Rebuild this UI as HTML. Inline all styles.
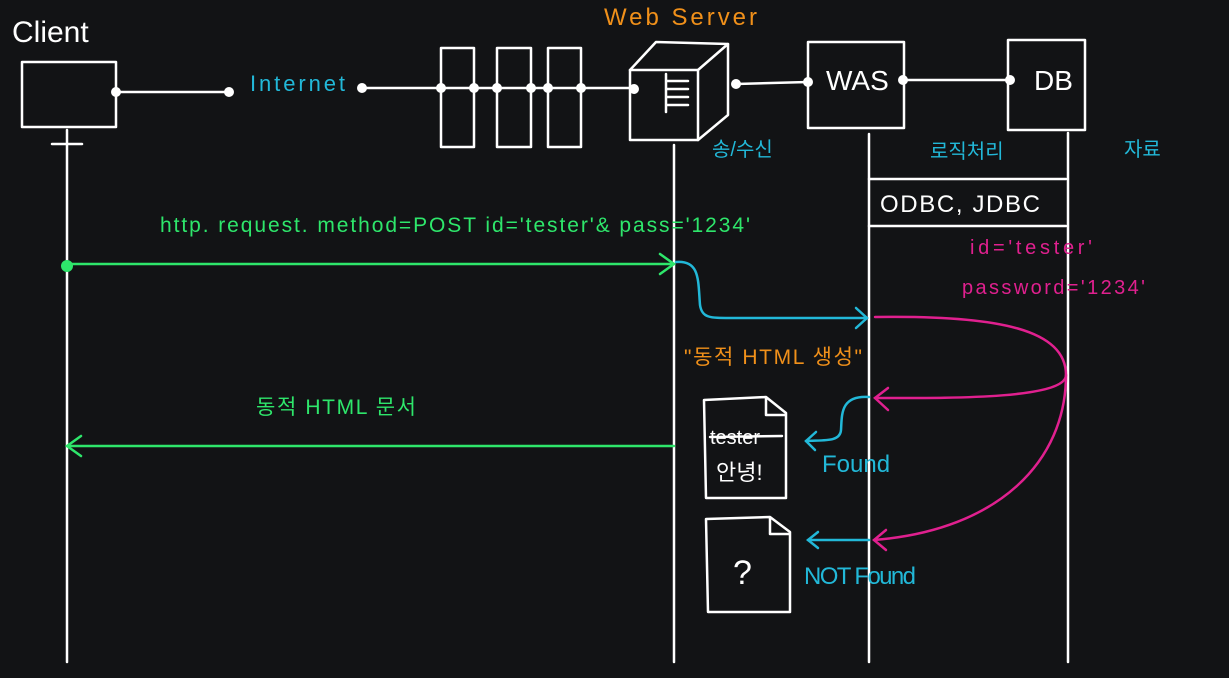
<!DOCTYPE html>
<html><head><meta charset="utf-8"><style>
html,body{margin:0;padding:0;background:#121315;}
svg{display:block}
text{font-family:"Liberation Sans","Noto Sans CJK KR",sans-serif;}
</style></head><body>
<svg width="1229" height="678" viewBox="0 0 1229 678" xmlns="http://www.w3.org/2000/svg">
<rect width="1229" height="678" fill="#121315"/>
<g stroke="#fff" stroke-width="2.5" fill="none" stroke-linecap="round" stroke-linejoin="round">
  <rect x="22" y="62" width="94" height="65"/>
  <line x1="116" y1="92" x2="229" y2="92"/>
  <line x1="362" y1="88" x2="634" y2="88"/>
  <rect x="441" y="48" width="33" height="99"/>
  <rect x="497" y="48" width="34" height="99"/>
  <rect x="548" y="48" width="33" height="99"/>
  <path d="M630 70 L698 70 L698 140 L630 140 Z"/>
  <path d="M630 70 L656 42 L728 44 L698 70"/>
  <path d="M728 44 L728 115 L698 140"/>
  <path d="M666 74 L666 112 M666 81 L688 81 M666 89 L688 89 M666 97 L688 97 M666 105 L688 105"/>
  <line x1="736" y1="84" x2="808" y2="82"/>
  <rect x="808" y="42" width="96" height="86"/>
  <line x1="904" y1="80" x2="1010" y2="80"/>
  <rect x="1008" y="40" width="77" height="90"/>
  <line x1="67" y1="130" x2="67" y2="662"/>
  <line x1="52" y1="144" x2="82" y2="144"/>
  <line x1="674" y1="145" x2="674" y2="662"/>
  <line x1="869" y1="134" x2="869" y2="662"/>
  <line x1="1068" y1="133" x2="1068" y2="662"/>
  <line x1="869" y1="179" x2="1066" y2="179"/>
  <line x1="869" y1="226" x2="1066" y2="226"/>
  <path d="M704 400 L766 397 L786 413 L786 498 L706 498 Z M766 397 L766 415 L786 415"/>
  <path d="M706 519 L770 517 L790 532 L790 612 L708 612 Z M770 517 L770 534 L790 534"/>
  <line x1="710" y1="437" x2="782" y2="436"/>
</g>
<g fill="#fff" stroke="#fff" stroke-width="2">
  <circle cx="116" cy="92" r="4"/><circle cx="229" cy="92" r="4"/><circle cx="362" cy="88" r="4"/>
  <circle cx="441" cy="88" r="4"/><circle cx="474" cy="88" r="4"/><circle cx="497" cy="88" r="4"/>
  <circle cx="531" cy="88" r="4"/><circle cx="548" cy="88" r="4"/><circle cx="581" cy="88" r="4"/>
  <circle cx="634" cy="89" r="4"/><circle cx="736" cy="84" r="4"/><circle cx="808" cy="82" r="4"/>
  <circle cx="903" cy="80" r="4"/><circle cx="1010" cy="80" r="4"/>
</g>
<g stroke="#2ee66b" stroke-width="2.5" fill="none" stroke-linecap="round">
  <line x1="67" y1="264" x2="674" y2="264"/>
  <path d="M660 254 L674 264 L660 274"/>
  <line x1="67" y1="446" x2="674" y2="446"/>
  <path d="M81 436 L67 446 L81 456"/>
</g>
<circle cx="67" cy="266" r="6" fill="#2ee66b"/>
<g stroke="#22b8d8" stroke-width="2.5" fill="none" stroke-linecap="round">
  <path d="M676 262 C700 260 698 280 700 305 C702 318 710 318 730 318 L867 318"/>
  <path d="M856 308 L867 318 L856 328"/>
  <path d="M869 397 C840 395 842 415 841 430 C840 442 825 440 806 441"/>
  <path d="M816 432 L806 441 L815 450"/>
  <line x1="869" y1="540" x2="808" y2="540"/>
  <path d="M818 532 L808 540 L818 548"/>
</g>
<g stroke="#e0208f" stroke-width="2.5" fill="none" stroke-linecap="round">
  <path d="M875 317 C1000 315 1066 330 1066 375 C1066 400 940 398 875 398"/>
  <path d="M888 388 L875 398 L888 410"/>
  <path d="M1066 375 C1066 460 1000 530 874 540"/>
  <path d="M886 530 L874 540 L886 550"/>
</g>
<text x="12" y="42" fill="#fff" font-size="30">Client</text>
<text x="604" y="25" fill="#f0901a" font-size="24" textLength="153">Web Server</text>
<text x="250" y="91" fill="#22b8d8" font-size="22" textLength="95">Internet</text>
<text x="826" y="90" fill="#fff" font-size="28">WAS</text>
<text x="1034" y="90" fill="#fff" font-size="28">DB</text>
<text x="712" y="156" fill="#22b8d8" font-size="20">송/수신</text>
<text x="930" y="158" fill="#22b8d8" font-size="20">로직처리</text>
<text x="1124" y="156" fill="#22b8d8" font-size="20">자료</text>
<text x="880" y="212" fill="#fff" font-size="24" textLength="160">ODBC, JDBC</text>
<text x="160" y="232" fill="#2ee66b" font-size="21" textLength="590">http. request. method=POST   id='tester'&amp; pass='1234'</text>
<text x="970" y="254" fill="#e0208f" font-size="20" textLength="122">id='tester'</text>
<text x="962" y="294" fill="#e0208f" font-size="20" textLength="183">password='1234'</text>
<text x="684" y="364" fill="#f0901a" font-size="21" textLength="178">"동적 HTML 생성"</text>
<text x="256" y="414" fill="#2ee66b" font-size="21" textLength="160">동적 HTML 문서</text>
<text x="710" y="444" fill="#fff" font-size="20">tester</text>
<text x="716" y="480" fill="#fff" font-size="22">안녕!</text>
<text x="822" y="472" fill="#22b8d8" font-size="24">Found</text>
<text x="733" y="584" fill="#fff" font-size="34">?</text>
<text x="804" y="584" fill="#22b8d8" font-size="24" textLength="112">NOT Found</text>
</svg>
</body></html>
